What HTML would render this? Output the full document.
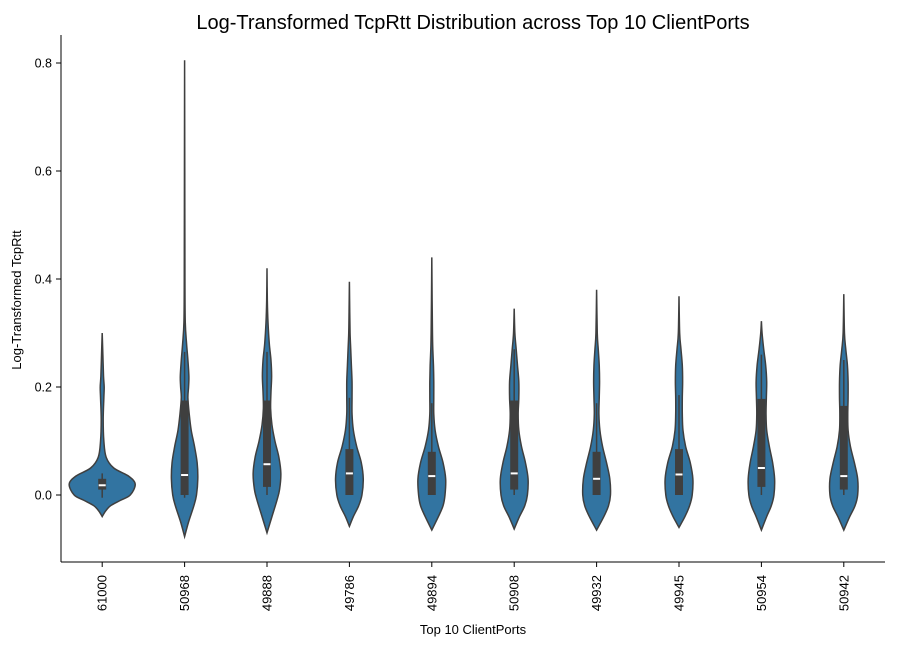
<!DOCTYPE html>
<html><head><meta charset="utf-8"><style>
body{margin:0;background:#fff;font-family:"Liberation Sans","DejaVu Sans",sans-serif}
svg text{font-family:"Liberation Sans","DejaVu Sans",sans-serif;fill:#000}
</style></head><body>
<svg id="chart" width="908" height="646" viewBox="0 0 908 646">
<text x="473" y="29" font-size="20" text-anchor="middle">Log-Transformed TcpRtt Distribution across Top 10 ClientPorts</text>
<g id="plot"></g>
<line x1="61" y1="35" x2="61" y2="562" stroke="#000" stroke-width="1"/>
<line x1="61" y1="562" x2="885" y2="562" stroke="#000" stroke-width="1"/>
<g id="yticks"></g><g id="xticks"></g>
<text x="473" y="634" font-size="13" text-anchor="middle">Top 10 ClientPorts</text>
<text transform="translate(21,300) rotate(-90)" font-size="13" text-anchor="middle">Log-Transformed TcpRtt</text>
</svg>
<script>
const categories=["61000","50968","49888","49786","49894","50908","49932","49945","50954","50942"];
const yTicks=[0.0,0.2,0.4,0.6,0.8];
const levels=[
[-0.04,-0.03,-0.02,-0.01,0.0,0.02,0.035,0.05,0.07,0.1,0.14,0.18,0.2,0.22,0.26,0.3],
[-0.077,-0.05,-0.02,0.0,0.03,0.06,0.09,0.12,0.15,0.18,0.2,0.22,0.25,0.28,0.32,0.4,0.6,0.805],
[-0.07,-0.04,-0.01,0.01,0.04,0.07,0.1,0.13,0.16,0.19,0.22,0.25,0.28,0.32,0.36,0.42],
[-0.058,-0.04,-0.02,0.0,0.03,0.06,0.09,0.12,0.15,0.18,0.21,0.24,0.27,0.3,0.34,0.395],
[-0.065,-0.04,-0.02,0.0,0.03,0.06,0.09,0.12,0.15,0.18,0.21,0.24,0.27,0.3,0.36,0.44],
[-0.063,-0.04,-0.02,0.0,0.03,0.06,0.09,0.12,0.15,0.18,0.21,0.24,0.27,0.3,0.345],
[-0.065,-0.04,-0.02,0.0,0.03,0.06,0.09,0.12,0.15,0.18,0.21,0.24,0.27,0.3,0.38],
[-0.06,-0.04,-0.02,0.0,0.03,0.06,0.09,0.12,0.15,0.18,0.21,0.24,0.27,0.3,0.368],
[-0.065,-0.04,-0.02,0.0,0.03,0.06,0.09,0.12,0.15,0.18,0.21,0.24,0.27,0.3,0.322],
[-0.065,-0.04,-0.02,0.0,0.03,0.06,0.09,0.12,0.15,0.18,0.21,0.24,0.27,0.3,0.372]];
const widths=[
[0,0.1,0.25,0.55,0.85,1.0,0.8,0.35,0.12,0.05,0.03,0.05,0.06,0.04,0.02,0],
[0,0.12,0.28,0.36,0.4,0.38,0.3,0.2,0.14,0.1,0.12,0.13,0.1,0.06,0.02,0.01,0.005,0],
[0,0.15,0.3,0.38,0.42,0.36,0.24,0.15,0.11,0.12,0.14,0.12,0.07,0.03,0.01,0],
[0,0.12,0.28,0.38,0.42,0.36,0.22,0.12,0.08,0.08,0.08,0.06,0.04,0.02,0.01,0],
[0,0.2,0.34,0.4,0.42,0.34,0.2,0.1,0.06,0.06,0.06,0.05,0.03,0.02,0.01,0],
[0,0.16,0.32,0.4,0.42,0.34,0.22,0.14,0.12,0.14,0.14,0.1,0.06,0.02,0],
[0,0.22,0.36,0.42,0.4,0.3,0.18,0.1,0.07,0.08,0.09,0.08,0.05,0.02,0],
[0,0.18,0.32,0.4,0.42,0.34,0.2,0.12,0.1,0.1,0.11,0.1,0.06,0.02,0],
[0,0.16,0.3,0.38,0.4,0.34,0.24,0.16,0.14,0.15,0.16,0.13,0.07,0.02,0],
[0,0.18,0.34,0.42,0.42,0.32,0.2,0.13,0.12,0.13,0.13,0.11,0.06,0.02,0]];
const q1=[0.01,0.0,0.015,0.0,0.0,0.01,0.0,0.0,0.015,0.01];
const medians=[0.018,0.037,0.057,0.04,0.035,0.04,0.03,0.038,0.05,0.035];
const q3=[0.03,0.175,0.175,0.085,0.08,0.175,0.08,0.085,0.178,0.165];
const whiskLo=[-0.005,-0.005,0.0,0.0,0.0,0.0,0.0,0.0,0.0,0.0];
const whiskHi=[0.04,0.265,0.265,0.18,0.17,0.27,0.17,0.185,0.26,0.25];

const NS="http://www.w3.org/2000/svg";
const X0=61,X1=885,Y0=495,PPU=540,MAXHW=33;
const band=(X1-X0)/categories.length;
const xPos=i=>X0+band*(i+0.5);
const yPos=v=>Y0-PPU*v;
function mk(tag,attrs,parent){const e=document.createElementNS(NS,tag);for(const k in attrs)e.setAttribute(k,attrs[k]);parent.appendChild(e);return e;}
function smooth(pts){let d="M"+pts[0][0]+","+pts[0][1];
 for(let i=0;i<pts.length-1;i++){const p0=pts[Math.max(0,i-1)],p1=pts[i],p2=pts[i+1],p3=pts[Math.min(pts.length-1,i+2)];
  const c1=[p1[0]+(p2[0]-p0[0])/6,p1[1]+(p2[1]-p0[1])/6],c2=[p2[0]-(p3[0]-p1[0])/6,p2[1]-(p3[1]-p1[1])/6];
  d+=" C"+c1[0].toFixed(2)+","+c1[1].toFixed(2)+" "+c2[0].toFixed(2)+","+c2[1].toFixed(2)+" "+p2[0].toFixed(2)+","+p2[1].toFixed(2);}
 return d;}
const plot=document.getElementById("plot");
categories.forEach((c,i)=>{
 const cx=xPos(i);
 const right=levels[i].map((v,k)=>[cx+widths[i][k]*MAXHW,yPos(v)]);
 const left=levels[i].map((v,k)=>[cx-widths[i][k]*MAXHW,yPos(v)]).reverse();
 const d=smooth(right)+" L"+left[0][0]+","+left[0][1]+smooth(left).replace(/^M[^C]*/,"")+" Z";
 const g=mk("g",{},plot);
 
 
 const p=mk("path",{d:d,fill:"#3274a1",stroke:"#3f3f3f","stroke-width":1.5},g);
 
 
 const w=mk("line",{x1:cx,x2:cx,y1:yPos(whiskLo[i]),y2:yPos(whiskHi[i]),stroke:"#3f3f3f","stroke-width":1.5},g);
 
 
 const b=mk("rect",{x:cx-4,width:8,y:yPos(q3[i]),height:Math.max(1,yPos(q1[i])-yPos(q3[i])),fill:"#3f3f3f"},g);
 
 
 const m=mk("line",{x1:cx-3.5,x2:cx+3.5,y1:yPos(medians[i]),y2:yPos(medians[i]),stroke:"#fff","stroke-width":2},g);
 
 
 const xt=document.getElementById("xticks");
 const tk=mk("line",{x1:cx,x2:cx,y1:562,y2:567,stroke:"#000"},xt);
 
 
 const t=mk("text",{transform:"translate("+(cx+4.5)+",575) rotate(-90)","font-size":13,"text-anchor":"end"},xt);
 t.textContent=c;
 
 
});
const yt=document.getElementById("yticks");
yTicks.forEach(v=>{
 const y=yPos(v);
 const l=mk("line",{x1:56,x2:61,y1:y,y2:y,stroke:"#000"},yt);
 
 
 const t=mk("text",{x:52,y:y+4.5,"font-size":12.5,"text-anchor":"end"},yt);
 t.textContent=v.toFixed(1);
 
 
});
</script>
</body></html>
